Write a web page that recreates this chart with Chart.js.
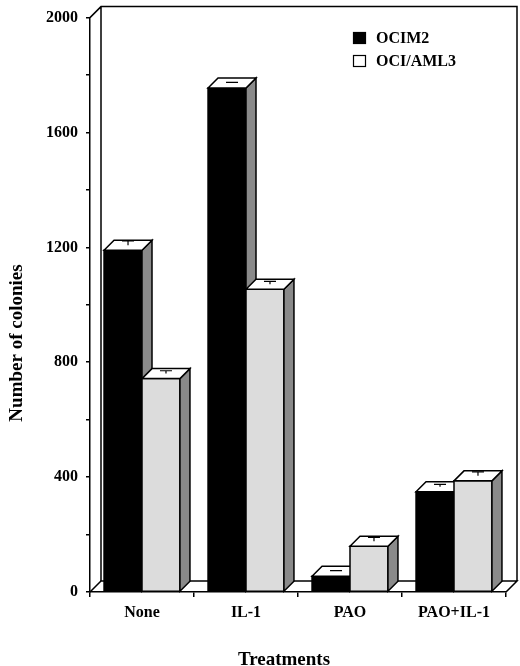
<!DOCTYPE html>
<html>
<head>
<meta charset="utf-8">
<script src="https://cdn.jsdelivr.net/npm/chart.js@4.4.1/dist/chart.umd.min.js"></script>
<style>
  html, body { margin: 0; padding: 0; background: #fff; }
  #wrap { width: 520px; height: 666px; }
</style>
</head>
<body>
<div id="wrap"><canvas id="c" width="520" height="666"></canvas></div>
<script>
const categories = ['None', 'IL-1', 'PAO', 'PAO+IL-1'];
const seriesNames = ['OCIM2', 'OCI/AML3'];
const ocim2 = [1190, 1755, 55, 349];
const ociAml3 = [743, 1054, 159, 387];
const ocim2Err = [15, 2, 2, 8];
const ociAml3Err = [10, 10, 14, 14];
const yTickLabels = ['0', '400', '800', '1200', '1600', '2000'];
const xTitle = 'Treatments';
const yTitle = 'Number of colonies';

const FONT = "'Liberation Serif', 'DejaVu Serif', serif";
const barDepth = 10;
const wallDepth = 11;
const sideColor = '#8a8a8a';

const errorsBySeries = [ocim2Err, ociAml3Err];

const threeD = {
  id: 'threeD',
  beforeDatasetsDraw(chart) {
    const { ctx, chartArea: a } = chart;
    const wd = wallDepth;
    ctx.save();
    ctx.lineWidth = 1.5;
    ctx.strokeStyle = '#000';
    ctx.beginPath();
    ctx.moveTo(a.left, a.top);
    ctx.lineTo(a.left + wd, a.top - wd);
    ctx.lineTo(a.right + wd, a.top - wd);
    ctx.lineTo(a.right + wd, a.bottom - wd);
    ctx.moveTo(a.left + wd, a.top - wd);
    ctx.lineTo(a.left + wd, a.bottom - wd);
    ctx.stroke();
    ctx.beginPath();
    ctx.moveTo(a.left, a.bottom);
    ctx.lineTo(a.left + wd, a.bottom - wd);
    ctx.lineTo(a.right + wd, a.bottom - wd);
    ctx.lineTo(a.right, a.bottom);
    ctx.stroke();
    ctx.restore();
  },
  afterDatasetsDraw(chart) {
    const { ctx } = chart;
    const d = barDepth;
    const yScale = chart.scales.y;
    ctx.save();
    ctx.lineWidth = 1.5;
    ctx.strokeStyle = '#000';
    ctx.lineJoin = 'miter';
    for (let j = 0; j < categories.length; j++) {
      for (let i = 0; i < chart.data.datasets.length; i++) {
        const ds = chart.data.datasets[i];
        const el = chart.getDatasetMeta(i).data[j];
        const { x, y, base, width } = el.getProps(['x', 'y', 'base', 'width'], true);
        const l = x - width / 2, r = x + width / 2;
        ctx.fillStyle = ds.backgroundColor;
        ctx.beginPath();
        ctx.rect(l, y, width, base - y);
        ctx.fill();
        ctx.stroke();
        ctx.fillStyle = sideColor;
        ctx.beginPath();
        ctx.moveTo(r, y);
        ctx.lineTo(r + d, y - d);
        ctx.lineTo(r + d, base - d);
        ctx.lineTo(r, base);
        ctx.closePath();
        ctx.fill();
        ctx.stroke();
        ctx.fillStyle = '#fff';
        ctx.beginPath();
        ctx.moveTo(l, y);
        ctx.lineTo(l + d, y - d);
        ctx.lineTo(r + d, y - d);
        ctx.lineTo(r, y);
        ctx.closePath();
        ctx.fill();
        ctx.stroke();
        const err = errorsBySeries[i][j];
        const cx = x + d / 2;
        const cy = y - d / 2;
        const ey = yScale.getPixelForValue(ds.data[j] + err) - d / 2;
        ctx.save();
        ctx.lineWidth = 1.2;
        ctx.beginPath();
        ctx.moveTo(cx, cy);
        ctx.lineTo(cx, ey);
        ctx.moveTo(cx - 6, ey);
        ctx.lineTo(cx + 6, ey);
        ctx.stroke();
        ctx.restore();
      }
    }
    ctx.restore();
  },
  afterDraw(chart) {
    const { ctx } = chart;
    ctx.save();
    ctx.font = 'bold 16px ' + FONT;
    ctx.textAlign = 'left';
    ctx.textBaseline = 'alphabetic';
    ctx.fillStyle = '#000';
    const lx = 353;
    const rows = [32, 55];
    chart.data.datasets.forEach((ds, i) => {
      const ty = rows[i];
      ctx.lineWidth = 1.2;
      ctx.strokeStyle = '#000';
      ctx.fillStyle = i === 0 ? ds.backgroundColor : '#fff';
      ctx.fillRect(lx, ty, 13, 12);
      ctx.strokeRect(lx + 0.5, ty + 0.5, 12, 11);
      ctx.fillStyle = '#000';
      ctx.fillText(ds.label, 376, ty + 10.5);
    });
    ctx.font = 'bold 19px ' + FONT;
    ctx.textAlign = 'center';
    ctx.fillText(xTitle, 284, 665);
    ctx.translate(22, 343);
    ctx.rotate(-Math.PI / 2);
    ctx.fillText(yTitle, 0, 0);
    ctx.restore();
  }
};

new Chart(document.getElementById('c'), {
  type: 'bar',
  data: {
    labels: categories,
    datasets: [
      { label: seriesNames[0], data: ocim2, backgroundColor: '#000000', borderWidth: 0 },
      { label: seriesNames[1], data: ociAml3, backgroundColor: '#dcdcdc', borderWidth: 0 }
    ]
  },
  options: {
    responsive: false,
    animation: false,
    devicePixelRatio: 1,
    layout: { padding: { top: 13, right: 14, left: 0, bottom: 0 } },
    datasets: { bar: { categoryPercentage: 0.73, barPercentage: 1.0 } },
    plugins: { legend: { display: false }, tooltip: { enabled: false }, title: { display: false } },
    scales: {
      x: {
        offset: true,
        grid: { offset: true, drawOnChartArea: false, tickLength: 5, color: '#000', lineWidth: 1.5 },
        border: { color: '#000', width: 1.5 },
        ticks: { padding: 6, color: '#000', font: { family: FONT, size: 16, weight: 'bold' } },
        afterFit(s) { s.height = 74; }
      },
      y: {
        min: 0, max: 2000,
        grid: { drawOnChartArea: false, tickLength: 4, color: '#000', lineWidth: 1.5 },
        border: { color: '#000', width: 1.5 },
        ticks: {
          stepSize: 200, autoSkip: false, padding: 8, color: '#000',
          font: { family: FONT, size: 16, weight: 'bold' },
          callback: (v) => yTickLabels.includes(String(v)) ? String(v) : ''
        },
        afterFit(s) { s.width = 90; }
      }
    }
  },
  plugins: [threeD]
});
</script>
</body>
</html>
